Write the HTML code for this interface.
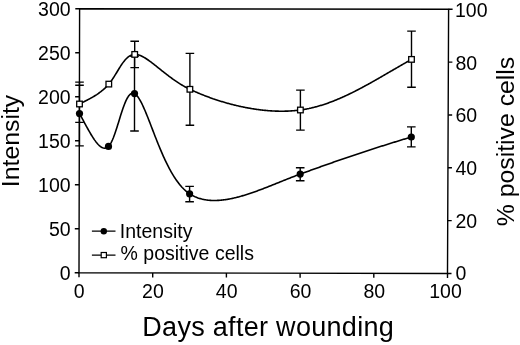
<!DOCTYPE html><html><head><meta charset="utf-8"><style>html,body{margin:0;padding:0;background:#fff;}svg{display:block;will-change:transform;}</style></head><body><svg width="520" height="345" viewBox="0 0 520 345">
<rect width="520" height="345" fill="#fff"/>
<path d="M79.0,272.8 L447.5,273.5 L448.6,9.3 L79.6,8.7 Z" stroke="#000" stroke-width="1.4" fill="none" stroke-linejoin="miter"/>
<path d="M74.70,272.80 H79.00 M74.80,228.78 H79.10 M74.90,184.77 H79.20 M75.00,140.75 H79.30 M75.10,96.73 H79.40 M75.20,52.72 H79.50 M75.30,8.70 H79.60 M447.50,273.50 H451.50 M447.72,220.66 H451.72 M447.94,167.82 H451.94 M448.16,114.98 H452.16 M448.38,62.14 H452.38 M448.60,9.30 H452.60 M79.00,272.80 V277.30 M152.70,272.94 V277.44 M226.40,273.08 V277.58 M300.10,273.22 V277.72 M373.80,273.36 V277.86 M447.50,273.50 V278.00" stroke="#000" stroke-width="1.4" fill="none"/>
<text x="70.6" y="279.80" text-anchor="end" style="font-size:19.5px;font-family:'Liberation Sans',sans-serif">0</text>
<text x="70.6" y="235.82" text-anchor="end" style="font-size:19.5px;font-family:'Liberation Sans',sans-serif">50</text>
<text x="70.6" y="191.83" text-anchor="end" style="font-size:19.5px;font-family:'Liberation Sans',sans-serif">100</text>
<text x="70.6" y="147.85" text-anchor="end" style="font-size:19.5px;font-family:'Liberation Sans',sans-serif">150</text>
<text x="70.6" y="103.87" text-anchor="end" style="font-size:19.5px;font-family:'Liberation Sans',sans-serif">200</text>
<text x="70.6" y="59.88" text-anchor="end" style="font-size:19.5px;font-family:'Liberation Sans',sans-serif">250</text>
<text x="70.6" y="15.90" text-anchor="end" style="font-size:19.5px;font-family:'Liberation Sans',sans-serif">300</text>
<text x="455.5" y="280.40" style="font-size:19.5px;font-family:'Liberation Sans',sans-serif">0</text>
<text x="455.5" y="227.72" style="font-size:19.5px;font-family:'Liberation Sans',sans-serif">20</text>
<text x="455.5" y="175.04" style="font-size:19.5px;font-family:'Liberation Sans',sans-serif">40</text>
<text x="455.5" y="122.36" style="font-size:19.5px;font-family:'Liberation Sans',sans-serif">60</text>
<text x="455.5" y="69.68" style="font-size:19.5px;font-family:'Liberation Sans',sans-serif">80</text>
<text x="455.0" y="17.00" style="font-size:19.5px;font-family:'Liberation Sans',sans-serif">100</text>
<text x="79.20" y="297.6" text-anchor="middle" style="font-size:19.5px;font-family:'Liberation Sans',sans-serif">0</text>
<text x="152.96" y="297.6" text-anchor="middle" style="font-size:19.5px;font-family:'Liberation Sans',sans-serif">20</text>
<text x="226.72" y="297.6" text-anchor="middle" style="font-size:19.5px;font-family:'Liberation Sans',sans-serif">40</text>
<text x="300.48" y="297.6" text-anchor="middle" style="font-size:19.5px;font-family:'Liberation Sans',sans-serif">60</text>
<text x="374.24" y="297.6" text-anchor="middle" style="font-size:19.5px;font-family:'Liberation Sans',sans-serif">80</text>
<text x="445.50" y="297.6" text-anchor="middle" style="font-size:19.5px;font-family:'Liberation Sans',sans-serif">100</text>
<text transform="translate(18.6,141.0) rotate(-90)" text-anchor="middle" style="font-size:24.8px;font-family:'Liberation Sans',sans-serif">Intensity</text>
<text transform="translate(513.6,141.5) rotate(-90)" text-anchor="middle" style="font-size:24.8px;font-family:'Liberation Sans',sans-serif">% positive cells</text>
<text x="268.2" y="335.7" text-anchor="middle" style="font-size:27px;letter-spacing:0.3px;font-family:'Liberation Sans',sans-serif">Days after wounding</text>
<path d="M79.50,82.10 V145.90 M75.20,82.10 H83.80 M75.20,145.90 H83.80 M134.50,56.20 V131.00 M130.20,56.20 H138.80 M130.20,131.00 H138.80 M189.60,186.40 V201.70 M185.30,186.40 H193.90 M185.30,201.70 H193.90 M300.20,167.70 V180.70 M295.90,167.70 H304.50 M295.90,180.70 H304.50 M411.30,126.90 V146.90 M407.00,126.90 H415.60 M407.00,146.90 H415.60 M79.50,85.30 V122.40 M75.20,85.30 H83.80 M75.20,122.40 H83.80 M134.70,41.30 V67.60 M130.40,41.30 H139.00 M130.40,67.60 H139.00 M189.90,53.40 V125.30 M185.60,53.40 H194.20 M185.60,125.30 H194.20 M300.40,90.10 V130.10 M296.10,90.10 H304.70 M296.10,130.10 H304.70 M411.50,31.10 V87.20 M407.20,31.10 H415.80 M407.20,87.20 H415.80" stroke="#000" stroke-width="1.4" fill="none"/>
<path d="M79.50,113.60 L80.25,114.95 L81.00,116.32 L81.75,117.70 L82.50,119.09 L83.25,120.48 L84.00,121.87 L84.75,123.26 L85.50,124.65 L86.25,126.03 L87.00,127.40 L87.75,128.76 L88.50,130.10 L89.25,131.42 L90.00,132.72 L90.75,133.99 L91.50,135.24 L92.25,136.45 L93.00,137.62 L93.75,138.76 L94.50,139.85 L95.25,140.89 L96.00,141.89 L96.75,142.83 L97.50,143.71 L98.25,144.53 L99.00,145.28 L99.75,145.95 L100.50,146.55 L101.25,147.07 L102.00,147.49 L102.75,147.82 L103.50,148.05 L104.25,148.17 L105.00,148.18 L105.75,148.06 L106.50,147.80 L107.25,147.41 L108.00,146.86 L108.75,146.14 L109.50,145.24 L110.25,144.14 L111.00,142.86 L111.75,141.40 L112.50,139.77 L113.25,137.99 L114.00,136.06 L114.75,134.00 L115.50,131.83 L116.25,129.56 L117.00,127.22 L117.75,124.82 L118.50,122.39 L119.25,119.94 L120.00,117.50 L120.75,115.09 L121.50,112.73 L122.25,110.44 L123.00,108.24 L123.75,106.15 L124.50,104.18 L125.25,102.34 L126.00,100.65 L126.75,99.12 L127.50,97.75 L128.25,96.56 L129.00,95.54 L129.75,94.70 L130.50,94.04 L131.25,93.57 L132.00,93.28 L132.75,93.17 L133.50,93.24 L134.25,93.48 L135.00,93.90 L135.75,94.47 L136.50,95.19 L137.25,96.04 L138.00,97.02 L138.75,98.11 L139.50,99.32 L140.25,100.62 L141.00,102.00 L141.75,103.47 L142.50,105.02 L143.25,106.63 L144.00,108.30 L144.75,110.02 L145.50,111.79 L146.25,113.60 L147.00,115.44 L147.75,117.32 L148.50,119.21 L149.25,121.13 L150.00,123.06 L150.75,125.01 L151.50,126.95 L152.25,128.91 L153.00,130.85 L153.75,132.80 L154.50,134.74 L155.25,136.67 L156.00,138.58 L156.75,140.48 L157.50,142.36 L158.25,144.22 L159.00,146.06 L159.75,147.88 L160.50,149.67 L161.25,151.43 L162.00,153.17 L162.75,154.88 L163.50,156.55 L164.25,158.20 L165.00,159.82 L165.75,161.40 L166.50,162.95 L167.25,164.47 L168.00,165.95 L168.75,167.40 L169.50,168.82 L170.25,170.20 L171.00,171.54 L171.75,172.85 L172.50,174.13 L173.25,175.36 L174.00,176.57 L174.75,177.74 L175.50,178.87 L176.25,179.97 L177.00,181.03 L177.75,182.06 L178.50,183.05 L179.25,184.01 L180.00,184.93 L180.75,185.82 L181.50,186.68 L182.25,187.50 L183.00,188.28 L183.75,189.04 L184.50,189.76 L185.25,190.45 L186.00,191.10 L186.75,191.72 L187.50,192.31 L188.25,192.87 L189.00,193.40 L189.75,193.90 L190.50,194.37 L191.25,194.81 L192.00,195.24 L192.75,195.64 L193.50,196.02 L194.25,196.38 L195.00,196.73 L195.75,197.05 L196.50,197.36 L197.25,197.64 L198.00,197.92 L198.75,198.17 L199.50,198.41 L200.25,198.63 L201.00,198.84 L201.75,199.04 L202.50,199.22 L203.25,199.39 L204.00,199.54 L204.75,199.68 L205.50,199.81 L206.25,199.93 L207.00,200.03 L207.75,200.13 L208.50,200.21 L209.25,200.28 L210.00,200.34 L210.75,200.39 L211.50,200.43 L212.25,200.46 L213.00,200.48 L213.75,200.50 L214.50,200.50 L215.25,200.49 L216.00,200.48 L216.75,200.45 L217.50,200.42 L218.25,200.38 L219.00,200.34 L219.75,200.28 L220.50,200.22 L221.25,200.15 L222.00,200.08 L222.75,199.99 L223.50,199.90 L224.25,199.81 L225.00,199.70 L225.75,199.59 L226.50,199.48 L227.25,199.36 L228.00,199.23 L228.75,199.10 L229.50,198.96 L230.25,198.81 L231.00,198.66 L231.75,198.51 L232.50,198.35 L233.25,198.18 L234.00,198.01 L234.75,197.84 L235.50,197.66 L236.25,197.48 L237.00,197.29 L237.75,197.10 L238.50,196.90 L239.25,196.70 L240.00,196.49 L240.75,196.29 L241.50,196.07 L242.25,195.86 L243.00,195.64 L243.75,195.41 L244.50,195.19 L245.25,194.96 L246.00,194.72 L246.75,194.49 L247.50,194.25 L248.25,194.01 L249.00,193.76 L249.75,193.51 L250.50,193.26 L251.25,193.01 L252.00,192.75 L252.75,192.49 L253.50,192.23 L254.25,191.97 L255.00,191.70 L255.75,191.43 L256.50,191.16 L257.25,190.89 L258.00,190.61 L258.75,190.34 L259.50,190.06 L260.25,189.78 L261.00,189.50 L261.75,189.21 L262.50,188.93 L263.25,188.64 L264.00,188.35 L264.75,188.06 L265.50,187.77 L266.25,187.48 L267.00,187.19 L267.75,186.89 L268.50,186.60 L269.25,186.30 L270.00,186.01 L270.75,185.71 L271.50,185.41 L272.25,185.11 L273.00,184.81 L273.75,184.51 L274.50,184.21 L275.25,183.91 L276.00,183.60 L276.75,183.30 L277.50,183.00 L278.25,182.70 L279.00,182.39 L279.75,182.09 L280.50,181.79 L281.25,181.49 L282.00,181.18 L282.75,180.88 L283.50,180.58 L284.25,180.28 L285.00,179.98 L285.75,179.68 L286.50,179.38 L287.25,179.08 L288.00,178.78 L288.75,178.48 L289.50,178.19 L290.25,177.89 L291.00,177.60 L291.75,177.30 L292.50,177.01 L293.25,176.72 L294.00,176.43 L294.75,176.14 L295.50,175.86 L296.25,175.57 L297.00,175.29 L297.75,175.01 L298.50,174.73 L299.25,174.45 L300.00,174.17 L300.75,173.90 L301.50,173.63 L302.25,173.35 L303.00,173.08 L303.75,172.81 L304.50,172.53 L305.25,172.26 L306.00,171.99 L306.75,171.72 L307.50,171.44 L308.25,171.17 L309.00,170.90 L309.75,170.63 L310.50,170.36 L311.25,170.09 L312.00,169.82 L312.75,169.55 L313.50,169.28 L314.25,169.01 L315.00,168.74 L315.75,168.47 L316.50,168.20 L317.25,167.94 L318.00,167.67 L318.75,167.40 L319.50,167.13 L320.25,166.87 L321.00,166.60 L321.75,166.33 L322.50,166.07 L323.25,165.80 L324.00,165.53 L324.75,165.27 L325.50,165.00 L326.25,164.74 L327.00,164.47 L327.75,164.21 L328.50,163.95 L329.25,163.68 L330.00,163.42 L330.75,163.16 L331.50,162.90 L332.25,162.63 L333.00,162.37 L333.75,162.11 L334.50,161.85 L335.25,161.59 L336.00,161.33 L336.75,161.07 L337.50,160.81 L338.25,160.55 L339.00,160.29 L339.75,160.03 L340.50,159.77 L341.25,159.51 L342.00,159.26 L342.75,159.00 L343.50,158.74 L344.25,158.48 L345.00,158.23 L345.75,157.97 L346.50,157.72 L347.25,157.46 L348.00,157.21 L348.75,156.95 L349.50,156.70 L350.25,156.44 L351.00,156.19 L351.75,155.94 L352.50,155.68 L353.25,155.43 L354.00,155.18 L354.75,154.93 L355.50,154.68 L356.25,154.43 L357.00,154.18 L357.75,153.93 L358.50,153.68 L359.25,153.43 L360.00,153.18 L360.75,152.93 L361.50,152.68 L362.25,152.43 L363.00,152.18 L363.75,151.94 L364.50,151.69 L365.25,151.44 L366.00,151.20 L366.75,150.95 L367.50,150.71 L368.25,150.46 L369.00,150.22 L369.75,149.97 L370.50,149.73 L371.25,149.49 L372.00,149.24 L372.75,149.00 L373.50,148.76 L374.25,148.51 L375.00,148.27 L375.75,148.03 L376.50,147.79 L377.25,147.55 L378.00,147.31 L378.75,147.07 L379.50,146.83 L380.25,146.59 L381.00,146.35 L381.75,146.11 L382.50,145.88 L383.25,145.64 L384.00,145.40 L384.75,145.16 L385.50,144.93 L386.25,144.69 L387.00,144.45 L387.75,144.22 L388.50,143.98 L389.25,143.75 L390.00,143.51 L390.75,143.28 L391.50,143.05 L392.25,142.81 L393.00,142.58 L393.75,142.35 L394.50,142.12 L395.25,141.88 L396.00,141.65 L396.75,141.42 L397.50,141.19 L398.25,140.96 L399.00,140.73 L399.75,140.50 L400.50,140.27 L401.25,140.04 L402.00,139.81 L402.75,139.58 L403.50,139.35 L404.25,139.13 L405.00,138.90 L405.75,138.67 L406.50,138.44 L407.25,138.22 L408.00,137.99 L408.75,137.77 L409.50,137.54 L410.25,137.31 L411.00,137.09 L411.30,137.00" stroke="#000" stroke-width="1.6" fill="none" stroke-linejoin="round"/>
<path d="M79.50,104.00 L80.25,103.61 L81.00,103.23 L81.75,102.85 L82.50,102.47 L83.25,102.09 L84.00,101.71 L84.75,101.33 L85.50,100.95 L86.25,100.56 L87.00,100.17 L87.75,99.78 L88.50,99.39 L89.25,98.99 L90.00,98.58 L90.75,98.17 L91.50,97.75 L92.25,97.32 L93.00,96.89 L93.75,96.45 L94.50,95.99 L95.25,95.53 L96.00,95.05 L96.75,94.57 L97.50,94.06 L98.25,93.55 L99.00,93.02 L99.75,92.47 L100.50,91.91 L101.25,91.32 L102.00,90.72 L102.75,90.10 L103.50,89.45 L104.25,88.78 L105.00,88.09 L105.75,87.36 L106.50,86.61 L107.25,85.83 L108.00,85.01 L108.75,84.16 L109.50,83.26 L110.25,82.31 L111.00,81.31 L111.75,80.26 L112.50,79.16 L113.25,78.03 L114.00,76.86 L114.75,75.66 L115.50,74.44 L116.25,73.21 L117.00,71.97 L117.75,70.73 L118.50,69.49 L119.25,68.27 L120.00,67.07 L120.75,65.90 L121.50,64.76 L122.25,63.67 L123.00,62.62 L123.75,61.63 L124.50,60.70 L125.25,59.82 L126.00,59.01 L126.75,58.26 L127.50,57.58 L128.25,56.96 L129.00,56.42 L129.75,55.94 L130.50,55.53 L131.25,55.18 L132.00,54.90 L132.75,54.68 L133.50,54.52 L134.25,54.43 L135.00,54.39 L135.75,54.41 L136.50,54.49 L137.25,54.61 L138.00,54.78 L138.75,54.98 L139.50,55.23 L140.25,55.51 L141.00,55.83 L141.75,56.17 L142.50,56.54 L143.25,56.94 L144.00,57.36 L144.75,57.80 L145.50,58.26 L146.25,58.74 L147.00,59.24 L147.75,59.75 L148.50,60.27 L149.25,60.80 L150.00,61.35 L150.75,61.91 L151.50,62.47 L152.25,63.04 L153.00,63.62 L153.75,64.20 L154.50,64.79 L155.25,65.38 L156.00,65.98 L156.75,66.57 L157.50,67.17 L158.25,67.77 L159.00,68.37 L159.75,68.98 L160.50,69.58 L161.25,70.18 L162.00,70.78 L162.75,71.37 L163.50,71.97 L164.25,72.56 L165.00,73.15 L165.75,73.73 L166.50,74.31 L167.25,74.89 L168.00,75.47 L168.75,76.03 L169.50,76.60 L170.25,77.16 L171.00,77.71 L171.75,78.26 L172.50,78.80 L173.25,79.33 L174.00,79.86 L174.75,80.39 L175.50,80.90 L176.25,81.41 L177.00,81.91 L177.75,82.41 L178.50,82.90 L179.25,83.38 L180.00,83.85 L180.75,84.31 L181.50,84.77 L182.25,85.22 L183.00,85.66 L183.75,86.09 L184.50,86.51 L185.25,86.93 L186.00,87.33 L186.75,87.73 L187.50,88.12 L188.25,88.50 L189.00,88.87 L189.75,89.23 L190.50,89.58 L191.25,89.93 L192.00,90.28 L192.75,90.62 L193.50,90.96 L194.25,91.30 L195.00,91.63 L195.75,91.96 L196.50,92.29 L197.25,92.61 L198.00,92.93 L198.75,93.25 L199.50,93.56 L200.25,93.87 L201.00,94.18 L201.75,94.48 L202.50,94.78 L203.25,95.08 L204.00,95.38 L204.75,95.67 L205.50,95.96 L206.25,96.24 L207.00,96.53 L207.75,96.81 L208.50,97.09 L209.25,97.36 L210.00,97.63 L210.75,97.90 L211.50,98.17 L212.25,98.43 L213.00,98.70 L213.75,98.95 L214.50,99.21 L215.25,99.46 L216.00,99.71 L216.75,99.96 L217.50,100.21 L218.25,100.45 L219.00,100.69 L219.75,100.93 L220.50,101.16 L221.25,101.39 L222.00,101.62 L222.75,101.85 L223.50,102.07 L224.25,102.30 L225.00,102.52 L225.75,102.73 L226.50,102.95 L227.25,103.16 L228.00,103.37 L228.75,103.57 L229.50,103.78 L230.25,103.98 L231.00,104.17 L231.75,104.37 L232.50,104.56 L233.25,104.75 L234.00,104.94 L234.75,105.13 L235.50,105.31 L236.25,105.49 L237.00,105.67 L237.75,105.84 L238.50,106.02 L239.25,106.19 L240.00,106.35 L240.75,106.52 L241.50,106.68 L242.25,106.84 L243.00,107.00 L243.75,107.15 L244.50,107.30 L245.25,107.45 L246.00,107.60 L246.75,107.74 L247.50,107.88 L248.25,108.02 L249.00,108.15 L249.75,108.29 L250.50,108.41 L251.25,108.54 L252.00,108.67 L252.75,108.79 L253.50,108.91 L254.25,109.02 L255.00,109.14 L255.75,109.25 L256.50,109.35 L257.25,109.46 L258.00,109.56 L258.75,109.66 L259.50,109.76 L260.25,109.85 L261.00,109.94 L261.75,110.03 L262.50,110.11 L263.25,110.19 L264.00,110.27 L264.75,110.35 L265.50,110.42 L266.25,110.49 L267.00,110.55 L267.75,110.62 L268.50,110.68 L269.25,110.74 L270.00,110.79 L270.75,110.84 L271.50,110.89 L272.25,110.93 L273.00,110.97 L273.75,111.01 L274.50,111.05 L275.25,111.08 L276.00,111.11 L276.75,111.13 L277.50,111.15 L278.25,111.17 L279.00,111.18 L279.75,111.20 L280.50,111.20 L281.25,111.21 L282.00,111.21 L282.75,111.20 L283.50,111.20 L284.25,111.19 L285.00,111.17 L285.75,111.16 L286.50,111.13 L287.25,111.11 L288.00,111.08 L288.75,111.05 L289.50,111.01 L290.25,110.97 L291.00,110.92 L291.75,110.87 L292.50,110.82 L293.25,110.76 L294.00,110.70 L294.75,110.64 L295.50,110.57 L296.25,110.49 L297.00,110.41 L297.75,110.33 L298.50,110.24 L299.25,110.15 L300.00,110.05 L300.75,109.95 L301.50,109.85 L302.25,109.73 L303.00,109.62 L303.75,109.50 L304.50,109.37 L305.25,109.24 L306.00,109.10 L306.75,108.96 L307.50,108.81 L308.25,108.66 L309.00,108.51 L309.75,108.34 L310.50,108.18 L311.25,108.01 L312.00,107.83 L312.75,107.65 L313.50,107.47 L314.25,107.28 L315.00,107.09 L315.75,106.89 L316.50,106.69 L317.25,106.48 L318.00,106.27 L318.75,106.06 L319.50,105.84 L320.25,105.61 L321.00,105.38 L321.75,105.15 L322.50,104.91 L323.25,104.67 L324.00,104.43 L324.75,104.18 L325.50,103.93 L326.25,103.67 L327.00,103.41 L327.75,103.14 L328.50,102.88 L329.25,102.60 L330.00,102.33 L330.75,102.05 L331.50,101.76 L332.25,101.47 L333.00,101.18 L333.75,100.89 L334.50,100.59 L335.25,100.29 L336.00,99.98 L336.75,99.67 L337.50,99.36 L338.25,99.05 L339.00,98.73 L339.75,98.41 L340.50,98.08 L341.25,97.75 L342.00,97.42 L342.75,97.09 L343.50,96.75 L344.25,96.41 L345.00,96.06 L345.75,95.72 L346.50,95.37 L347.25,95.02 L348.00,94.66 L348.75,94.30 L349.50,93.94 L350.25,93.58 L351.00,93.21 L351.75,92.85 L352.50,92.47 L353.25,92.10 L354.00,91.73 L354.75,91.35 L355.50,90.97 L356.25,90.58 L357.00,90.20 L357.75,89.81 L358.50,89.42 L359.25,89.03 L360.00,88.64 L360.75,88.24 L361.50,87.84 L362.25,87.44 L363.00,87.04 L363.75,86.64 L364.50,86.23 L365.25,85.83 L366.00,85.42 L366.75,85.01 L367.50,84.60 L368.25,84.18 L369.00,83.77 L369.75,83.35 L370.50,82.93 L371.25,82.52 L372.00,82.10 L372.75,81.67 L373.50,81.25 L374.25,80.83 L375.00,80.40 L375.75,79.98 L376.50,79.55 L377.25,79.12 L378.00,78.69 L378.75,78.26 L379.50,77.83 L380.25,77.40 L381.00,76.97 L381.75,76.54 L382.50,76.10 L383.25,75.67 L384.00,75.23 L384.75,74.80 L385.50,74.36 L386.25,73.93 L387.00,73.49 L387.75,73.06 L388.50,72.62 L389.25,72.18 L390.00,71.75 L390.75,71.31 L391.50,70.87 L392.25,70.44 L393.00,70.00 L393.75,69.56 L394.50,69.13 L395.25,68.69 L396.00,68.26 L396.75,67.82 L397.50,67.39 L398.25,66.95 L399.00,66.52 L399.75,66.08 L400.50,65.65 L401.25,65.22 L402.00,64.79 L402.75,64.36 L403.50,63.92 L404.25,63.50 L405.00,63.07 L405.75,62.64 L406.50,62.21 L407.25,61.79 L408.00,61.36 L408.75,60.94 L409.50,60.52 L410.25,60.10 L411.00,59.68 L411.50,59.40" stroke="#000" stroke-width="1.6" fill="none" stroke-linejoin="round"/>
<circle cx="79.5" cy="113.6" r="3.6" fill="#000"/>
<circle cx="108.5" cy="146.4" r="3.6" fill="#000"/>
<circle cx="134.5" cy="93.6" r="3.6" fill="#000"/>
<circle cx="189.6" cy="193.8" r="3.6" fill="#000"/>
<circle cx="300.2" cy="174.1" r="3.6" fill="#000"/>
<circle cx="411.3" cy="137.0" r="3.6" fill="#000"/>
<rect x="76.70" y="101.20" width="5.6" height="5.6" fill="#fff" stroke="#000" stroke-width="1.3"/>
<rect x="106.00" y="81.30" width="5.6" height="5.6" fill="#fff" stroke="#000" stroke-width="1.3"/>
<rect x="131.90" y="51.60" width="5.6" height="5.6" fill="#fff" stroke="#000" stroke-width="1.3"/>
<rect x="187.10" y="86.50" width="5.6" height="5.6" fill="#fff" stroke="#000" stroke-width="1.3"/>
<rect x="297.60" y="107.20" width="5.6" height="5.6" fill="#fff" stroke="#000" stroke-width="1.3"/>
<rect x="408.70" y="56.60" width="5.6" height="5.6" fill="#fff" stroke="#000" stroke-width="1.3"/>
<path d="M91.9,231.2 H115.5 M91.9,255.1 H115.5" stroke="#000" stroke-width="1.3"/>
<circle cx="103.8" cy="231.2" r="3.2" fill="#000"/>
<rect x="101.2" y="252.5" width="5.2" height="5.2" fill="#fff" stroke="#000" stroke-width="1.2"/>
<text x="119.8" y="237.8" style="font-size:19.5px;font-family:'Liberation Sans',sans-serif">Intensity</text>
<text x="120.6" y="260.1" style="font-size:19.5px;font-family:'Liberation Sans',sans-serif">% positive cells</text>
</svg></body></html>
